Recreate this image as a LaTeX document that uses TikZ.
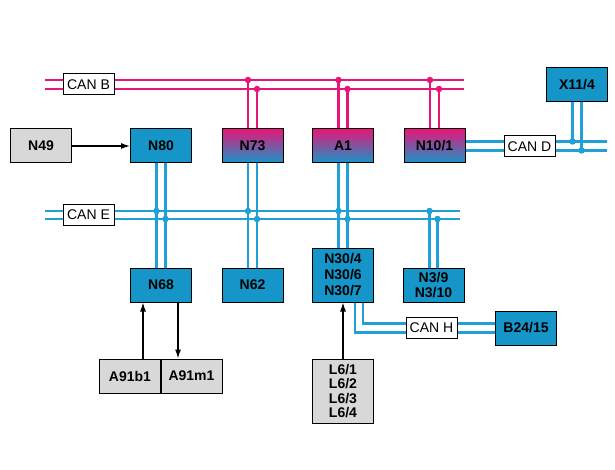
\documentclass[tikz,border=0pt]{standalone}
\usepackage{fontspec}
\setmainfont{Liberation Sans}
\usetikzlibrary{arrows.meta,positioning,calc,backgrounds}
\definecolor{canpink}{RGB}{230,22,120}
\definecolor{canblue}{RGB}{32,160,214}
\definecolor{ecublue}{RGB}{22,150,200}
\definecolor{boxgray}{RGB}{216,216,216}

\tikzset{
  ecu/.style={draw=black, line width=1pt, fill=ecublue, minimum width=61pt,
    minimum height=34pt, inner sep=0pt, align=center, font=\fontsize{14}{16}\selectfont\bfseries},
  gwecu/.style={ecu, top color=canpink, bottom color=ecublue},
  extbox/.style={ecu, fill=boxgray},
  canlbl/.style={draw=black, fill=white, line width=1pt, inner sep=0pt,
    minimum width=51pt, minimum height=21pt, font=\fontsize{14}{16}\selectfont},
  pbus/.style={canpink, line width=2.3pt},
  cbus/.style={canblue, line width=2.3pt},
  jn/.style={circle, fill, inner sep=0pt, minimum size=6.5pt},
  sig/.style={-{Latex[length=9pt,width=6pt]}, black, line width=1.2pt}
}

\begin{document}
\begin{tikzpicture}[x=1pt, y=-1pt]
\useasboundingbox (0,0) rectangle (615,470);
% control units
\node[extbox] (n49) at (41,146) {N49};
\node[ecu] (n80) at (161,146) {N80};
\node[gwecu] (n73) at (252.5,146) {N73};
\node[gwecu] (a1) at (343,146) {A1};
\node[gwecu] (n101) at (434.5,146) {N10/1};
\node[ecu] (x114) at (577,85) {X11/4};
\node[ecu] (n68) at (161,285) {N68};
\node[ecu] (n62) at (252.5,285) {N62};
\node[ecu, minimum height=54pt, font=\fontsize{14}{16}\selectfont\bfseries] (n30) at (343,275) {N30/4\\N30/6\\N30/7};
\node[ecu, font=\fontsize{14}{15}\selectfont\bfseries] (n39) at (433.5,285) {N3/9\\N3/10};
\node[ecu] (b24) at (526,328) {B24/15};
\node[extbox] (a91b) at (130,376) {A91b1};
\node[extbox] (a91m) at (191.5,376) {A91m1};
\node[extbox, minimum height=64pt, font=\fontsize{14}{14.5}\selectfont\bfseries] (l6) at (343,391) {L6/1\\L6/2\\L6/3\\L6/4};
% bus labels
\node[canlbl] (canb) at (88.5,84.5) {CAN B};
\node[canlbl] (cane) at (88.5,215) {CAN E};
\node[canlbl] (cand) at (529.5,146.5) {CAN D};
\node[canlbl] (canh) at (431.5,328) {CAN H};
% bus wires
\coordinate (bb1) at (45,80);  \coordinate (bb2) at (45,89);
\coordinate (be1) at (45,211); \coordinate (be2) at (45,219);
\coordinate (dend) at (607,146);
\begin{scope}[on background layer]
\draw[pbus] (bb1) -- (464,80);
\draw[pbus] (bb2) -- (464,89);
\draw[cbus] (be1) -- (460,211);
\draw[cbus] (be2) -- (460,219);
\foreach \n in {n73,a1,n101}{
  \draw[pbus] ([xshift=-4.5pt]\n.north) -- ([xshift=-4.5pt]\n.north |- bb1) node[jn,canpink]{};
  \draw[pbus] ([xshift=4.5pt]\n.north) -- ([xshift=4.5pt]\n.north |- bb2) node[jn,canpink]{};
}
\foreach \a/\b in {n80/n68,n73/n62,a1/n30}{
  \draw[cbus] ([xshift=-4.5pt]\a.south) -- ([xshift=-4.5pt]\b.north);
  \draw[cbus] ([xshift=4.5pt]\a.south) -- ([xshift=4.5pt]\b.north);
  \node[jn,canblue] at ([xshift=-4.5pt]\a.south |- be1) {};
  \node[jn,canblue] at ([xshift=4.5pt]\a.south |- be2) {};
}
\draw[cbus] ([xshift=-4pt]n39.north) -- ([xshift=-4pt]n39.north |- be1) node[jn,canblue]{};
\draw[cbus] ([xshift=4pt]n39.north) -- ([xshift=4pt]n39.north |- be2) node[jn,canblue]{};
% CAN D
\draw[cbus] ([yshift=4.5pt]n101.east) -- ([yshift=4.5pt]n101.east -| dend);
\draw[cbus] ([yshift=-4.5pt]n101.east) -- ([yshift=-4.5pt]n101.east -| dend);
\draw[cbus] ([xshift=-4.5pt]x114.south) -- ([xshift=-4.5pt]x114.south |- 0,141.5) node[jn,canblue]{};
\draw[cbus] ([xshift=4.5pt]x114.south) -- ([xshift=4.5pt]x114.south |- 0,150.5) node[jn,canblue]{};
% CAN H
\draw[cbus] ([xshift=20pt]n30.south) |- ([yshift=4.5pt]b24.west);
\draw[cbus] ([xshift=12pt]n30.south) |- ([yshift=-4.5pt]b24.west);
\end{scope}
% discrete signals
\draw[sig] (n49.east) -- (n80.west);
\draw[sig] ([xshift=-18pt]n68.south |- a91b.north) -- ([xshift=-18pt]n68.south);
\draw[sig] ([xshift=17pt]n68.south) -- ([xshift=17pt]n68.south |- a91m.north);
\draw[sig] (l6.north) -- (n30.south);
\end{tikzpicture}
\end{document}
